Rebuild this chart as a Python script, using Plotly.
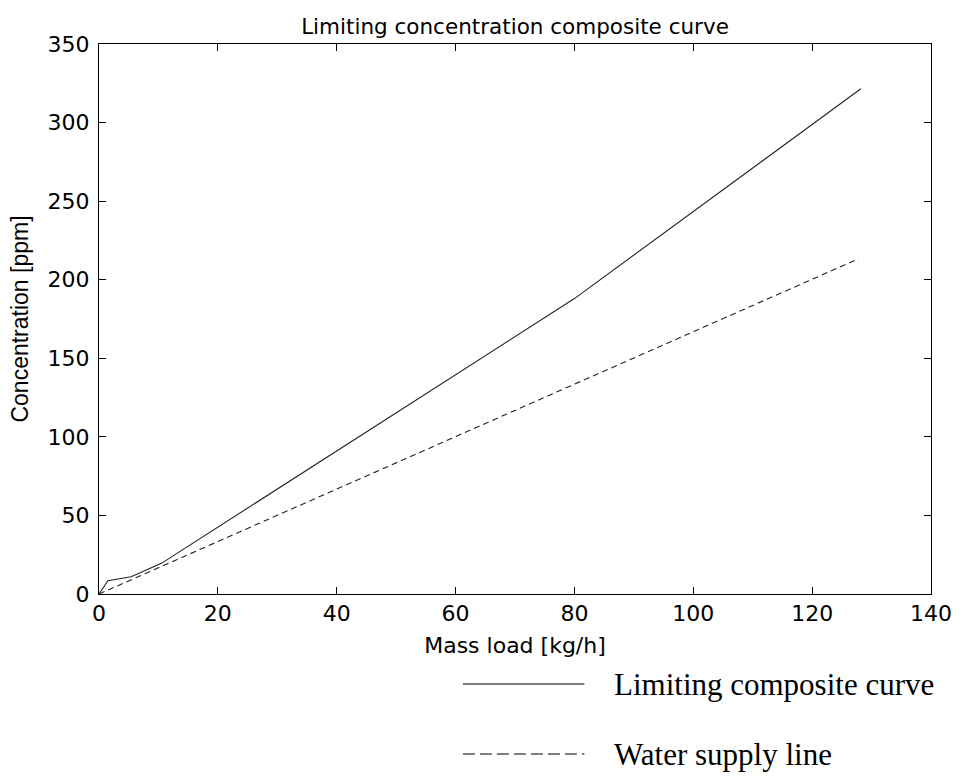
import plotly.graph_objects as go

# Data
composite_x = [0, 1.5, 5.4, 10.5, 80, 128.2]
composite_y = [0, 8.4, 11.0, 19.5, 188, 321.5]
supply_x = [0, 127.8]
supply_y = [0, 213.3]

x_ticks = [0, 20, 40, 60, 80, 100, 120, 140]
y_ticks = [0, 50, 100, 150, 200, 250, 300, 350]

title_text = "Limiting concentration composite curve"
x_title = "Mass load [kg/h]"
y_title = "Concentration [ppm]"
legend_labels = ["Limiting composite curve", "Water supply line"]

W, H = 964, 777
L, R, T, B = 98.5, 23, 44, 183
pw, ph = W - L - R, H - T - B

def px_x(p):
    return (p - L) / pw

def px_y(p):
    return (H - B - p) / ph

fig = go.Figure()
fig.add_trace(go.Scatter(x=composite_x, y=composite_y, mode="lines",
                         line=dict(color="#222222", width=1.1),
                         showlegend=False, name=legend_labels[0]))
fig.add_trace(go.Scatter(x=supply_x, y=supply_y, mode="lines",
                         line=dict(color="#222222", width=1.1, dash="6px,4px"),
                         showlegend=False, name=legend_labels[1]))

tick_font = dict(family="DejaVu Sans", size=22, color="black")
axis_common = dict(showline=True, linecolor="black", linewidth=1, mirror="ticks",
                   ticks="inside", ticklen=7, tickwidth=1, tickcolor="black",
                   showgrid=False, zeroline=False, tickfont=tick_font)

fig.update_xaxes(range=[0, 140], tickvals=x_ticks, ticktext=[str(v) for v in x_ticks],
                 title=dict(text=x_title, font=dict(family="DejaVu Sans", size=22, color="black"),
                            standoff=12),
                 **axis_common)
fig.update_yaxes(range=[0, 350], tickvals=y_ticks, ticktext=[str(v) for v in y_ticks],
                 ticklabelstandoff=4,
                 title=dict(text=y_title, font=dict(family="Liberation Sans", size=23, color="black"),
                            standoff=12),
                 **axis_common)

# Manual legend below the axes
legend_font = dict(family="Liberation Serif", size=31, color="black")
rows = [(684, "solid"), (754, "12px,5px")]
for (ypix, dash), label in zip(rows, legend_labels):
    fig.add_shape(type="line", xref="paper", yref="paper",
                  x0=px_x(467), x1=px_x(590), y0=px_y(ypix), y1=px_y(ypix),
                  line=dict(color="black", width=1.2, dash=dash))
    fig.add_annotation(xref="paper", yref="paper", x=px_x(618), y=px_y(ypix),
                       xanchor="left", yanchor="middle", showarrow=False,
                       text=label, font=legend_font)

fig.update_layout(
    width=W, height=H, autosize=False,
    margin=dict(l=L, r=R, t=T, b=B, pad=0),
    paper_bgcolor="white", plot_bgcolor="white",
    title=dict(text=title_text, x=0.5, xref="paper", y=1 - 26 / H, yref="container",
               xanchor="center", yanchor="middle",
               font=dict(family="DejaVu Sans", size=21.5, color="black")),
    showlegend=False,
)

fig.write_html("out.html",
               config={"displayModeBar": False, "responsive": False},
               default_width=W, default_height=H,
               post_script="document.body.style.margin='0';document.body.style.overflow='hidden';")
